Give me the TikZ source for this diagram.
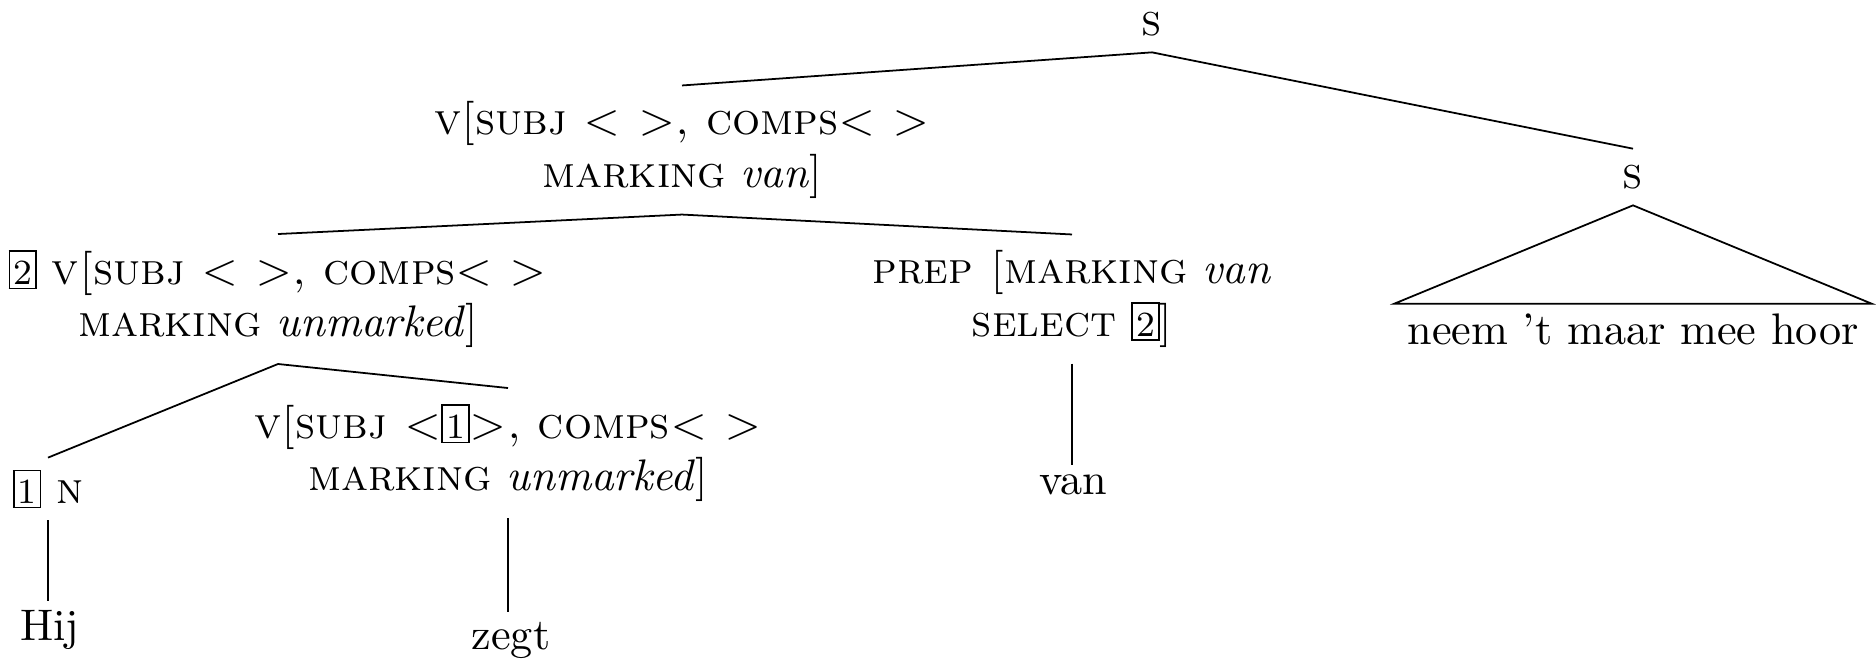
\documentclass[tikz,border=0pt]{standalone}
\usetikzlibrary{positioning}
% boxed tag numbers
\newcommand\tagbx[1]{{\setlength\fboxsep{0.7pt}\setlength\fboxrule{0.4pt}\fbox{\rule{0pt}{6.6pt}\footnotesize #1}}}
\tikzset{
  cat/.style={align=center, inner xsep=0pt, inner ysep=3.5pt, font=\fontsize{10}{11.8}\selectfont},
  word/.style={inner xsep=0pt, inner ysep=2pt, font=\fontsize{10}{12}\selectfont},
  branch/.style={line width=0.4pt}
}
\begin{document}
\begin{tikzpicture}[x=0.2262pt, y=-0.2262pt]
\useasboundingbox (0,0) rectangle (1876,661);

% category nodes
\node[cat] (s0) at (1152,24) {\textsc{s}};
\node[cat] (v1) at (682,150) {\textsc{v[subj < >, comps< >}\\\textsc{marking} \textit{van}]};
\node[cat] (s2) at (1633,177) {\textsc{s}};
\node[cat] (v2) at (278,299) {\tagbx{2} \textsc{v[subj < >, comps< >}\\\textsc{marking} \textit{unmarked}]};
\node[cat] (prep) at (1072,299) {\textsc{prep [marking} \textit{van}\\\textsc{select} \tagbx{2}]};
\node[cat, inner ysep=2.5pt] (n) at (48,489) {\tagbx{1} \textsc{n}};
\node[cat] (v3) at (508,453) {\textsc{v[subj <}\tagbx{1}\textsc{>, comps< >}\\\textsc{marking} \textit{unmarked}]};

% words
\node[word] (leaf) at (1633,329) {neem ’t maar mee hoor};
\node[word] (hij) at (50,630) {Hij};
\node[word] (zegt) at (511,640) {zegt};
\node[word] (van) at (1073,485) {van};

% branches
\draw[branch] (v1.north) -- (s0.south) -- (s2.north);
\draw[branch] (v2.north) -- (v1.south) -- (prep.north);
\draw[branch] (n.north) -- (v2.south) -- (v3.north);
\draw[branch] (prep.south) -- (prep.south |- van.north);
\draw[branch] (n.south) -- (n.south |- hij.north);
\draw[branch] (v3.south) -- (v3.south |- zegt.north);
\draw[branch] (s2.south) -- ([xshift=-54pt]leaf.north) -- ([xshift=54pt]leaf.north) -- cycle;
\end{tikzpicture}
\end{document}
